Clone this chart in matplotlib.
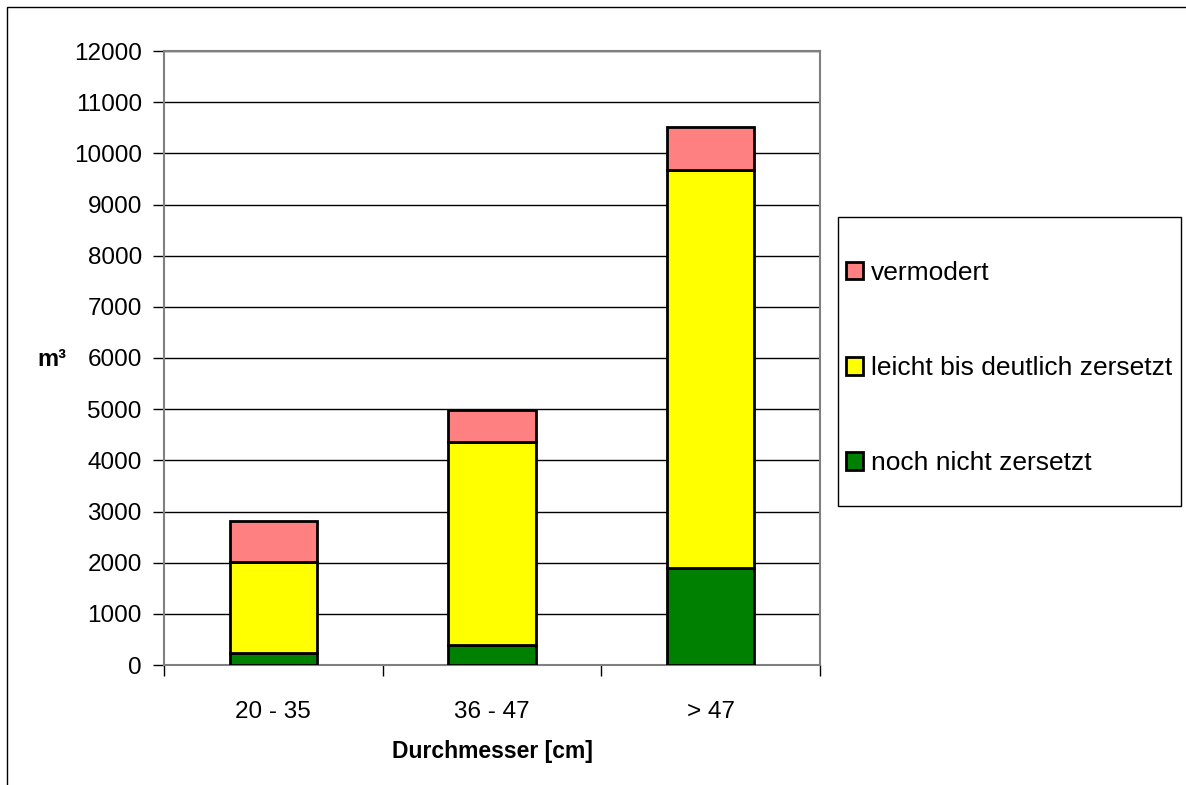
import numpy as np
import matplotlib
matplotlib.use('Agg')
import matplotlib.pyplot as plt
from matplotlib.patches import Patch, Rectangle

plt.rcParams['font.family'] = ['Liberation Sans', 'DejaVu Sans']

categories = ['20 - 35', '36 - 47', '> 47']
series = ['noch nicht zersetzt', 'leicht bis deutlich zersetzt', 'vermodert']
noch_nicht = [230, 390, 1900]
leicht_deutlich = [1790, 3970, 7770]
vermodert = [800, 620, 850]
colors = ['#008000', '#FFFF00', '#FF8080']

W, H = 1186, 785
fig = plt.figure(figsize=(W / 100, H / 100), dpi=100)

# outer chart frame (only top and left visible in the reference)
fig.patches.append(Rectangle((7 / W, -0.05), 1.2, 1 - 7 / H + 0.05, transform=fig.transFigure,
                             fill=False, edgecolor='black', linewidth=1))

ax = fig.add_axes([164 / W, 1 - 665 / H, (820 - 164) / W, (665 - 51) / H])

x = np.arange(len(categories)) + 0.5
bottom = np.zeros(len(categories))
for vals, col in zip([noch_nicht, leicht_deutlich, vermodert], colors):
    ax.bar(x, vals, width=0.40, bottom=bottom, color=col, edgecolor='black',
           linewidth=2.0, zorder=3)
    bottom += np.array(vals)

ax.set_xlim(0, 3)
ax.set_ylim(0, 12000)
ax.set_yticks(np.arange(0, 12001, 1000))
ax.yaxis.grid(True, color='black', linewidth=1, zorder=0)
ax.set_xticks(x)
ax.set_xticklabels(categories)
ax.set_xticks([0, 1, 2, 3], minor=True)
ax.tick_params(axis='x', which='major', length=0, pad=26, labelsize=17.5)
ax.tick_params(axis='x', which='minor', length=8, width=1, color='black', direction='out')
ax.tick_params(axis='y', length=8, width=1, color='black', pad=8, labelsize=17.5)
for s in ax.spines.values():
    s.set_color('#808080')
    s.set_linewidth(1.5)

ax.set_xlabel('Durchmesser [cm]', fontsize=16.5, fontweight='bold', labelpad=12)
fig.text(52 / W, 1 - 360 / H, 'm³', fontsize=17, fontweight='bold', ha='center', va='center')

# legend box
fig.patches.append(Rectangle((838 / W, 1 - 506 / H), (1181 - 838) / W, (506 - 217) / H,
                             transform=fig.transFigure, fill=False, edgecolor='black', linewidth=1))
handles = [Patch(facecolor=c, edgecolor='black', linewidth=2) for c in colors[::-1]]
fig.legend(handles, series[::-1], loc='center left', bbox_to_anchor=(846 / W, 1 - 368 / H),
           frameon=False, fontsize=19, labelspacing=2.7, handlelength=0.65, handleheight=0.65,
           handletextpad=0.3, borderpad=0, borderaxespad=0)

fig.savefig('out.png', dpi=100)
